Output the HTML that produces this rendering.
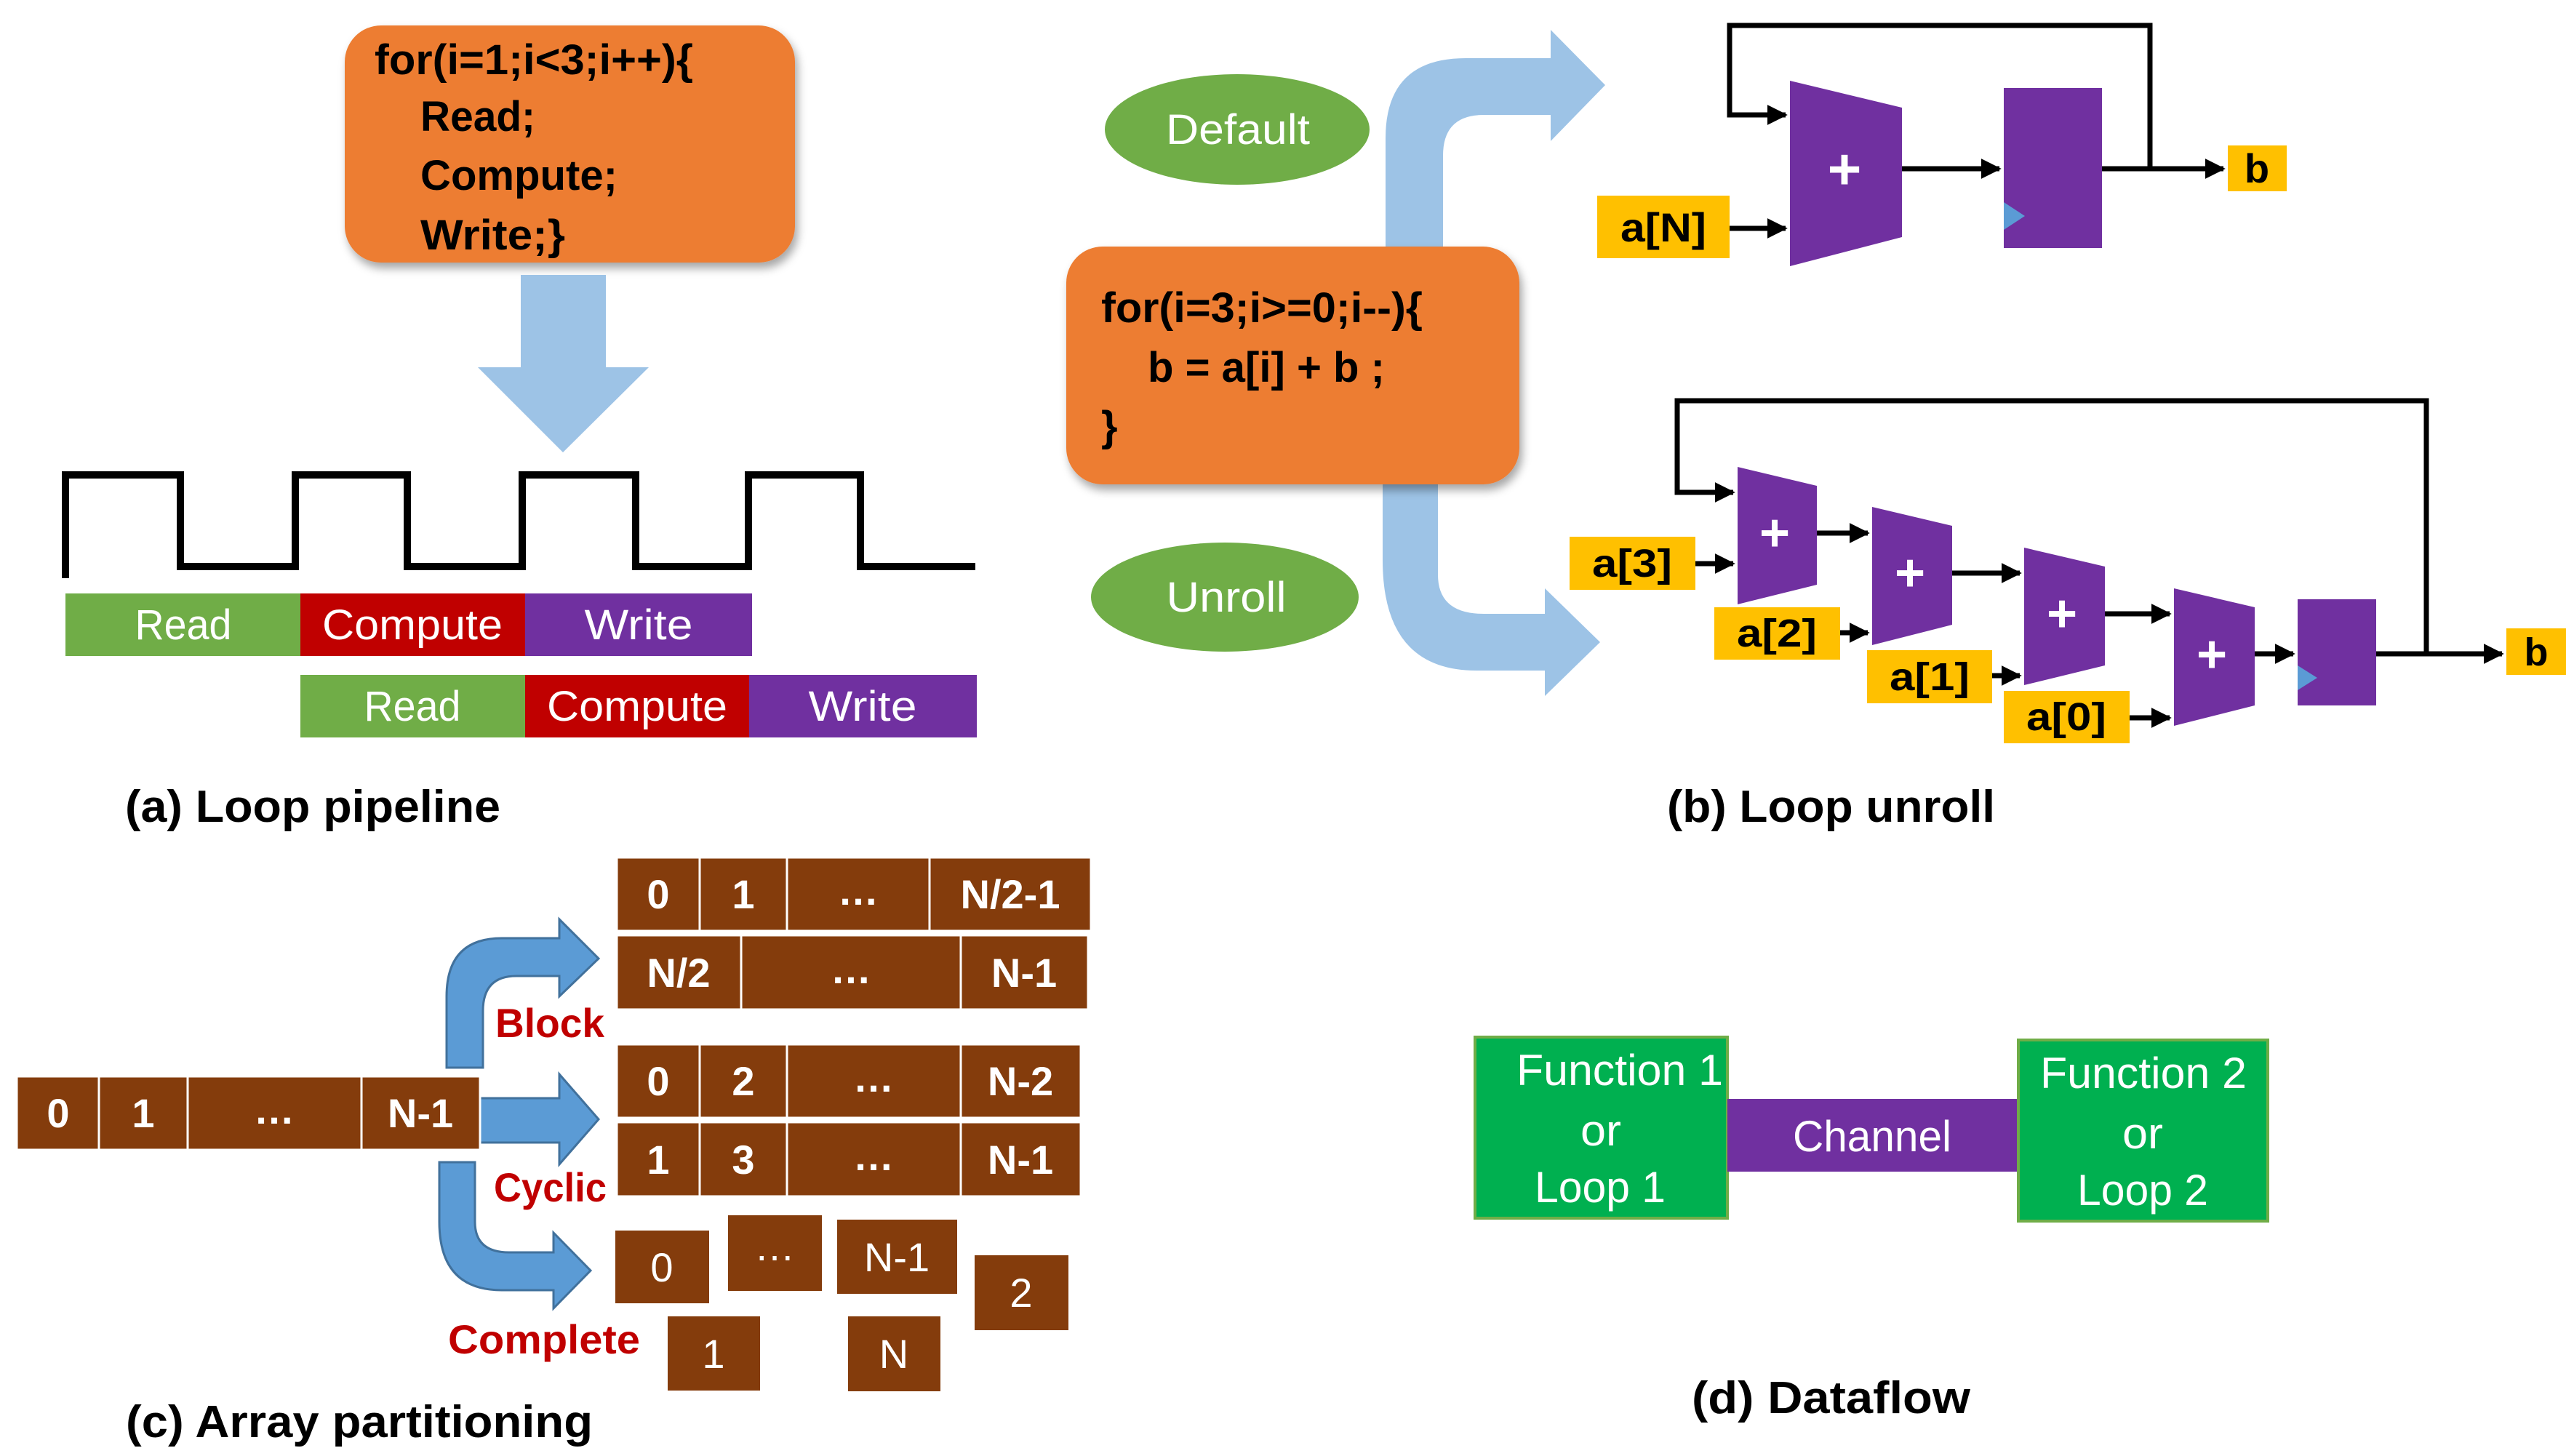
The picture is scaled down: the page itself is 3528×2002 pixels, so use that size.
<!DOCTYPE html>
<html><head><meta charset="utf-8"><style>
html,body{margin:0;padding:0;background:#fff;}
svg{display:block;}
text{font-family:"Liberation Sans Narrow","Liberation Sans",sans-serif;}
</style></head><body>
<svg width="3528" height="2002" viewBox="0 0 3528 2002" xmlns="http://www.w3.org/2000/svg">
<defs>
<marker id="ah" markerWidth="4" markerHeight="4" refX="3.6" refY="2" orient="auto" markerUnits="strokeWidth"><path d="M0,0 L4,2 L0,4 Z" fill="#000"/></marker>
<filter id="sh" x="-10%" y="-10%" width="130%" height="130%"><feDropShadow dx="4" dy="8" stdDeviation="6" flood-color="#000" flood-opacity="0.35"/></filter>
</defs>

<!-- (a) Loop pipeline -->
<rect x="474" y="35" width="619" height="326" rx="50" fill="#ed7d31" filter="url(#sh)"/>
<g font-weight="bold" font-size="58" fill="#000">
<text x="515" y="102" textLength="438" lengthAdjust="spacingAndGlyphs">for(i=1;i&lt;3;i++){</text>
<text x="578" y="180" textLength="158" lengthAdjust="spacingAndGlyphs">Read;</text>
<text x="578" y="261" textLength="271" lengthAdjust="spacingAndGlyphs">Compute;</text>
<text x="578" y="343" textLength="199" lengthAdjust="spacingAndGlyphs">Write;}</text>
</g>
<path d="M716,378 L833,378 L833,505 L892,505 L774,622 L657,505 L716,505 Z" fill="#9dc3e6"/>
<polyline points="90,795 90,653 248,653 248,779 406,779 406,653 560,653 560,779 718,779 718,653 874,653 874,779 1029,779 1029,653 1183,653 1183,779 1341,779" fill="none" stroke="#000" stroke-width="10"/>
<rect x="90" y="816" width="323" height="86" fill="#70ad47"/>
<rect x="413" y="816" width="309" height="86" fill="#c00000"/>
<rect x="722" y="816" width="312" height="86" fill="#7030a0"/>
<rect x="413" y="928" width="309" height="86" fill="#70ad47"/>
<rect x="722" y="928" width="308" height="86" fill="#c00000"/>
<rect x="1030" y="928" width="313" height="86" fill="#7030a0"/>
<g font-size="58" fill="#fff" text-anchor="middle">
<text x="252" y="879" textLength="133" lengthAdjust="spacingAndGlyphs">Read</text><text x="567" y="879" textLength="248" lengthAdjust="spacingAndGlyphs">Compute</text><text x="878" y="879" textLength="149" lengthAdjust="spacingAndGlyphs">Write</text>
<text x="567" y="991" textLength="133" lengthAdjust="spacingAndGlyphs">Read</text><text x="876" y="991" textLength="248" lengthAdjust="spacingAndGlyphs">Compute</text><text x="1186" y="991" textLength="149" lengthAdjust="spacingAndGlyphs">Write</text>
</g>
<text x="172" y="1130" font-size="62" font-weight="bold" textLength="516" lengthAdjust="spacingAndGlyphs">(a) Loop pipeline</text>

<!-- (b) Loop unroll -->
<path d="M1905,345 L1905,190 Q1905,80 2015,80 L2132,80 L2132,41 L2207,117 L2132,194 L2132,158 L2040,158 Q1984,158 1984,214 L1984,345 Z" fill="#9dc3e6"/>
<path d="M1901,660 L1901,770 Q1901,922 2030,922 L2124,922 L2124,957 L2200,883 L2124,809 L2124,844 L2040,844 Q1977,844 1977,790 L1977,660 Z" fill="#9dc3e6"/>
<ellipse cx="1701" cy="178" rx="182" ry="76" fill="#70ad47"/>
<ellipse cx="1684" cy="821" rx="184" ry="75" fill="#70ad47"/>
<g font-size="58" fill="#fff" text-anchor="middle">
<text x="1702" y="198" textLength="198" lengthAdjust="spacingAndGlyphs">Default</text>
<text x="1686" y="841" textLength="165" lengthAdjust="spacingAndGlyphs">Unroll</text>
</g>
<rect x="1466" y="339" width="623" height="327" rx="50" fill="#ed7d31" filter="url(#sh)"/>
<g font-weight="bold" font-size="58" fill="#000">
<text x="1514" y="443" textLength="442" lengthAdjust="spacingAndGlyphs">for(i=3;i&gt;=0;i--){</text>
<text x="1578" y="525" textLength="326" lengthAdjust="spacingAndGlyphs">b = a[i] + b ;</text>
<text x="1514" y="606">}</text>
</g>

<!-- top circuit -->
<g stroke="#000" stroke-width="7" fill="none">
<polyline points="2956,232 2956,35 2378,35 2378,158 2455,158" marker-end="url(#ah)"/>
<line x1="2378" y1="314" x2="2455" y2="314" marker-end="url(#ah)"/>
<line x1="2615" y1="232" x2="2749" y2="232" marker-end="url(#ah)"/>
<line x1="2890" y1="232" x2="3057" y2="232" marker-end="url(#ah)"/>
</g>
<polygon points="2461,111 2615,148 2615,326 2461,366" fill="#7030a0"/>
<rect x="2755" y="121" width="135" height="220" fill="#7030a0"/>
<polygon points="2755,278 2784,297 2755,316" fill="#5b9bd5"/>
<rect x="2196" y="269" width="182" height="86" fill="#ffc000"/>
<rect x="3063" y="200" width="81" height="63" fill="#ffc000"/>
<g font-weight="bold" font-size="56" fill="#000" text-anchor="middle">
<text x="2287" y="332" textLength="118" lengthAdjust="spacingAndGlyphs">a[N]</text>
<text x="3103" y="251">b</text>
</g>
<text x="2536" y="260" font-size="80" font-weight="bold" fill="#fff" text-anchor="middle">+</text>

<!-- bottom circuit -->
<g stroke="#000" stroke-width="7" fill="none">
<polyline points="3336,899 3336,551 2306,551 2306,677 2383,677" marker-end="url(#ah)"/>
<line x1="2331" y1="775" x2="2383" y2="775" marker-end="url(#ah)"/>
<line x1="2530" y1="870" x2="2568" y2="870" marker-end="url(#ah)"/>
<line x1="2739" y1="929" x2="2777" y2="929" marker-end="url(#ah)"/>
<line x1="2928" y1="987" x2="2983" y2="987" marker-end="url(#ah)"/>
<line x1="2498" y1="733" x2="2568" y2="733" marker-end="url(#ah)"/>
<line x1="2684" y1="788" x2="2777" y2="788" marker-end="url(#ah)"/>
<line x1="2894" y1="844" x2="2983" y2="844" marker-end="url(#ah)"/>
<line x1="3100" y1="899" x2="3153" y2="899" marker-end="url(#ah)"/>
<line x1="3267" y1="899" x2="3440" y2="899" marker-end="url(#ah)"/>
</g>
<polygon points="2389,642 2498,668 2498,804 2389,831" fill="#7030a0"/>
<polygon points="2574,697 2684,723 2684,859 2574,887" fill="#7030a0"/>
<polygon points="2783,753 2894,779 2894,915 2783,942" fill="#7030a0"/>
<polygon points="2989,809 3100,835 3100,970 2989,998" fill="#7030a0"/>
<rect x="3159" y="824" width="108" height="146" fill="#7030a0"/>
<polygon points="3159,915 3186,932 3159,949" fill="#5b9bd5"/>
<g font-size="72" font-weight="bold" fill="#fff" text-anchor="middle">
<text x="2440" y="757">+</text><text x="2626" y="812">+</text><text x="2835" y="868">+</text><text x="3041" y="924">+</text>
</g>
<rect x="2158" y="738" width="173" height="73" fill="#ffc000"/>
<rect x="2357" y="835" width="173" height="72" fill="#ffc000"/>
<rect x="2567" y="894" width="172" height="73" fill="#ffc000"/>
<rect x="2755" y="950" width="173" height="72" fill="#ffc000"/>
<rect x="3446" y="864" width="82" height="64" fill="#ffc000"/>
<g font-weight="bold" font-size="54" fill="#000" text-anchor="middle">
<text x="2244" y="793" textLength="110" lengthAdjust="spacingAndGlyphs">a[3]</text>
<text x="2443" y="889" textLength="110" lengthAdjust="spacingAndGlyphs">a[2]</text>
<text x="2653" y="949" textLength="110" lengthAdjust="spacingAndGlyphs">a[1]</text>
<text x="2841" y="1004" textLength="110" lengthAdjust="spacingAndGlyphs">a[0]</text>
<text x="3487" y="915">b</text>
</g>
<text x="2292" y="1130" font-size="62" font-weight="bold" textLength="451" lengthAdjust="spacingAndGlyphs">(b) Loop unroll</text>

<!-- (c) Array partitioning -->
<g fill="#5b9bd5" stroke="#41719c" stroke-width="3">
<path d="M614,1468 L614,1370 Q614,1290 690,1290 L769,1290 L769,1264 L823,1318 L769,1370 L769,1342 L710,1342 Q664,1342 664,1390 L664,1468 Z"/>
<path d="M660,1510 L769,1510 L769,1477 L823,1539 L769,1601 L769,1571 L660,1571 Z"/>
<path d="M604,1598 L604,1680 Q604,1774 690,1774 L761,1774 L761,1799 L812,1747 L761,1695 L761,1722 L700,1722 Q653,1722 653,1680 L653,1598 Z"/>
</g>
<g fill="#843c0c" stroke="#fff" stroke-width="3">
<rect x="23" y="1480" width="113" height="101"/><rect x="136" y="1480" width="122" height="101"/><rect x="258" y="1480" width="239" height="101"/><rect x="497" y="1480" width="163" height="101"/>
<rect x="848" y="1179" width="114" height="101"/><rect x="962" y="1179" width="120" height="101"/><rect x="1082" y="1179" width="196" height="101"/><rect x="1278" y="1179" width="222" height="101"/>
<rect x="848" y="1286" width="171" height="102"/><rect x="1019" y="1286" width="302" height="102"/><rect x="1321" y="1286" width="175" height="102"/>
<rect x="848" y="1436" width="114" height="101"/><rect x="962" y="1436" width="120" height="101"/><rect x="1082" y="1436" width="239" height="101"/><rect x="1321" y="1436" width="165" height="101"/>
<rect x="848" y="1543" width="114" height="102"/><rect x="962" y="1543" width="120" height="102"/><rect x="1082" y="1543" width="239" height="102"/><rect x="1321" y="1543" width="165" height="102"/>
</g>
<g fill="#843c0c">
<rect x="846" y="1692" width="129" height="100"/><rect x="1001" y="1671" width="129" height="104"/><rect x="1151" y="1677" width="165" height="102"/><rect x="1340" y="1726" width="129" height="103"/><rect x="918" y="1810" width="127" height="102"/><rect x="1166" y="1810" width="127" height="103"/>
</g>
<g font-weight="bold" font-size="56" fill="#fff" text-anchor="middle">
<text x="80" y="1550">0</text><text x="197" y="1550">1</text><text x="377" y="1545">…</text><text x="578" y="1550">N-1</text>
<text x="905" y="1249">0</text><text x="1022" y="1249">1</text><text x="1180" y="1244">…</text><text x="1389" y="1249">N/2-1</text>
<text x="933" y="1357">N/2</text><text x="1170" y="1352">…</text><text x="1408" y="1357">N-1</text>
<text x="905" y="1506">0</text><text x="1022" y="1506">2</text><text x="1201" y="1501">…</text><text x="1403" y="1506">N-2</text>
<text x="905" y="1614">1</text><text x="1022" y="1614">3</text><text x="1201" y="1609">…</text><text x="1403" y="1614">N-1</text>
</g>
<g font-size="56" fill="#fff" text-anchor="middle">
<text x="910" y="1762">0</text><text x="1065" y="1733">…</text><text x="1233" y="1748">N-1</text><text x="1404" y="1797">2</text><text x="981" y="1881">1</text><text x="1229" y="1881">N</text>
</g>
<g font-weight="bold" font-size="56" fill="#c00000">
<text x="681" y="1426" textLength="150" lengthAdjust="spacingAndGlyphs">Block</text>
<text x="679" y="1652" textLength="155" lengthAdjust="spacingAndGlyphs">Cyclic</text>
<text x="616" y="1861" textLength="264" lengthAdjust="spacingAndGlyphs">Complete</text>
</g>
<text x="173" y="1976" font-size="62" font-weight="bold" textLength="642" lengthAdjust="spacingAndGlyphs">(c) Array partitioning</text>

<!-- (d) Dataflow -->
<rect x="2028" y="1426" width="347" height="249" fill="#00b050" stroke="#70ad47" stroke-width="4"/>
<rect x="2375" y="1511" width="398" height="100" fill="#7030a0"/>
<rect x="2775" y="1430" width="343" height="249" fill="#00b050" stroke="#70ad47" stroke-width="4"/>
<g font-size="60" fill="#fff" text-anchor="middle">
<text x="2227" y="1492" textLength="284" lengthAdjust="spacingAndGlyphs">Function 1</text>
<text x="2201" y="1575" textLength="56" lengthAdjust="spacingAndGlyphs">or</text>
<text x="2200" y="1653" textLength="180" lengthAdjust="spacingAndGlyphs">Loop 1</text>
<text x="2574" y="1583" textLength="218" lengthAdjust="spacingAndGlyphs">Channel</text>
<text x="2947" y="1496" textLength="284" lengthAdjust="spacingAndGlyphs">Function 2</text>
<text x="2946" y="1579" textLength="56" lengthAdjust="spacingAndGlyphs">or</text>
<text x="2946" y="1657" textLength="180" lengthAdjust="spacingAndGlyphs">Loop 2</text>
</g>
<text x="2326" y="1943" font-size="62" font-weight="bold" textLength="383" lengthAdjust="spacingAndGlyphs">(d) Dataflow</text>
</svg>
</body></html>
